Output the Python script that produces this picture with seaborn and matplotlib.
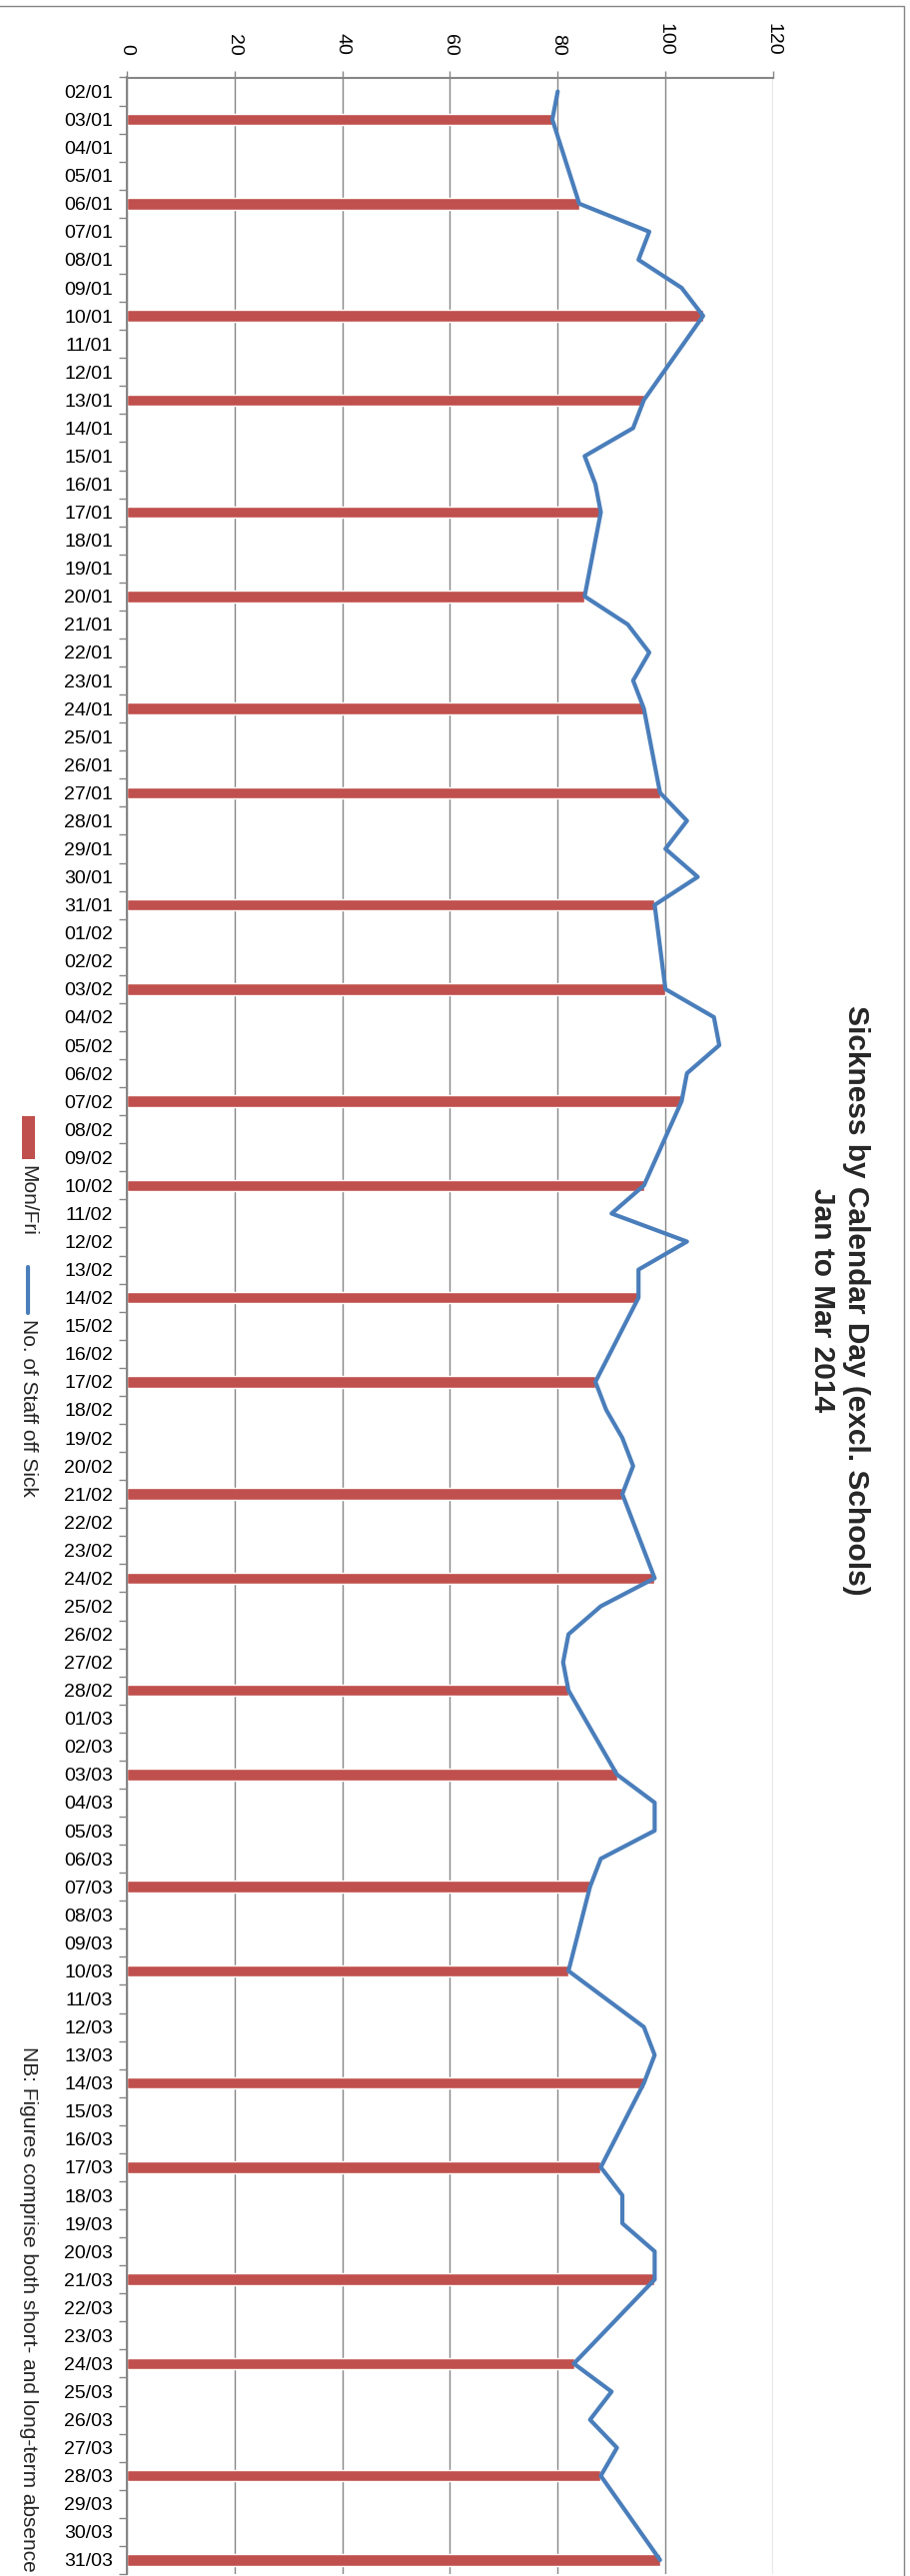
import numpy as np
import pandas as pd
import matplotlib
matplotlib.use("Agg")
import matplotlib.pyplot as plt
import seaborn as sns
from matplotlib.lines import Line2D
from matplotlib.patches import Rectangle

# Calendar days, 2 Jan to 31 Mar 2014
dates = [
    "02/01", "03/01", "04/01", "05/01", "06/01", "07/01", "08/01", "09/01", "10/01",
    "11/01", "12/01", "13/01", "14/01", "15/01", "16/01", "17/01", "18/01", "19/01",
    "20/01", "21/01", "22/01", "23/01", "24/01", "25/01", "26/01", "27/01", "28/01",
    "29/01", "30/01", "31/01",
    "01/02", "02/02", "03/02", "04/02", "05/02", "06/02", "07/02", "08/02", "09/02",
    "10/02", "11/02", "12/02", "13/02", "14/02", "15/02", "16/02", "17/02", "18/02",
    "19/02", "20/02", "21/02", "22/02", "23/02", "24/02", "25/02", "26/02", "27/02",
    "28/02",
    "01/03", "02/03", "03/03", "04/03", "05/03", "06/03", "07/03", "08/03", "09/03",
    "10/03", "11/03", "12/03", "13/03", "14/03", "15/03", "16/03", "17/03", "18/03",
    "19/03", "20/03", "21/03", "22/03", "23/03", "24/03", "25/03", "26/03", "27/03",
    "28/03", "29/03", "30/03", "31/03",
]

# Number of staff off sick per day (weekends have no figure)
staff_off_sick = [
    80, 79, None, None, 84, 97, 95, 103, 107,
    None, None, 96, 94, 85, 87, 88, None, None,
    85, 93, 97, 94, 96, None, None, 99, 104,
    100, 106, 98,
    None, None, 100, 109, 110, 104, 103, None, None,
    96, 90, 104, 95, 95, None, None, 87, 89,
    92, 94, 92, None, None, 98, 88, 82, 81,
    82,
    None, None, 91, 98, 98, 88, 86, None, None,
    82, 89, 96, 98, 96, None, None, 88, 92,
    92, 98, 98, None, None, 83, 90, 86, 91,
    88, None, None, 99,
]

# Mondays and Fridays, highlighted as bars
mon_fri = [
    "03/01", "06/01", "10/01", "13/01", "17/01", "20/01", "24/01", "27/01", "31/01",
    "03/02", "07/02", "10/02", "14/02", "17/02", "21/02", "24/02", "28/02",
    "03/03", "07/03", "10/03", "14/03", "17/03", "21/03", "24/03", "28/03", "31/03",
]

value_ticks = [0, 20, 40, 60, 80, 100, 120]

title = "Sickness by Calendar Day (excl. Schools)\nJan to Mar 2014"
legend_bar = "Mon/Fri"
legend_line = "No. of Staff off Sick"
footnote = "NB: Figures comprise both short- and long-term absence"

BAR_RED = "#C0504D"
LINE_BLUE = "#4A7EBB"
GREY = "#868686"

W, H = 912, 2578

sns.set_style("white")
plt.rcParams["font.family"] = ["Liberation Sans", "DejaVu Sans"]


def fx(px):
    return px / W


def fy(py):
    return 1 - py / H


fig = plt.figure(figsize=(W / 100, H / 100), dpi=100)
fig.patch.set_facecolor("white")

ax_left, ax_right, ax_top, ax_bottom = 127, 774, 77.5, 2576
ax = fig.add_axes([fx(ax_left), fy(ax_bottom), (ax_right - ax_left) / W,
                   (ax_bottom - ax_top) / H])

df = pd.DataFrame({"date": dates,
                   "staff": pd.to_numeric(pd.Series(staff_off_sick), errors="coerce")})
df["pos"] = np.arange(len(df), dtype=float)

bars = df[df["date"].isin(mon_fri)]
sns.barplot(data=bars, x="staff", y="date", order=dates, orient="h",
            color=BAR_RED, saturation=1, width=0.41, errorbar=None, ax=ax,
            zorder=2)

line = df.dropna(subset=["staff"])
sns.lineplot(data=line, x="staff", y="pos", orient="y", sort=True,
             estimator=None, color=LINE_BLUE, linewidth=3.0, ax=ax, zorder=3)

n = len(dates)
ax.set_ylim(n - 0.5, -0.5)
ax.set_xlim(0, 120)
ax.set_xlabel("")
ax.set_ylabel("")

# value axis along the top, labels turned to read downwards
ax.xaxis.tick_top()
ax.set_xticks(value_ticks)
ax.set_xticklabels([str(v) for v in value_ticks])
ax.tick_params(axis="x", which="major", direction="out", length=5, width=1,
               color=GREY, pad=11, labelsize=14, labelcolor="black",
               labelrotation=-90, top=True, bottom=False)

# category axis on the left, tick marks between days
ax.set_yticks(np.arange(n))
ax.set_yticklabels(dates)
ax.set_yticks(np.arange(-0.5, n, 1.0), minor=True)
ax.tick_params(axis="y", which="major", length=0, pad=10, labelsize=14,
               labelcolor="black")
ax.tick_params(axis="y", which="minor", direction="out", length=6, width=1,
               color=GREY, left=True)

ax.set_axisbelow(True)
ax.grid(axis="x", color=GREY, linewidth=1.0)
ax.grid(axis="y", visible=False)

for side in ("right", "bottom"):
    ax.spines[side].set_visible(False)
for side in ("top", "left"):
    ax.spines[side].set_visible(True)
    ax.spines[side].set_color(GREY)
    ax.spines[side].set_linewidth(1.5)
ax.legend_ = None

# chart frame
fig.add_artist(Rectangle((fx(-5), fy(H + 5)), fx(905 + 5), (H + 5 - 6) / H,
                         transform=fig.transFigure, fill=False,
                         edgecolor=GREY, linewidth=1.0))

# title, turned to read downwards
fig.text(fx(840), fy(1301), title, rotation=-90, ha="center", va="center",
         multialignment="center", fontsize=21.5, fontweight="bold",
         linespacing=1.25)

# legend
fig.add_artist(Rectangle((fx(22), fy(1160)), fx(13), (1160 - 1117) / H,
                         transform=fig.transFigure, facecolor=BAR_RED,
                         edgecolor="none"))
fig.text(fx(28), fy(1166), legend_bar, rotation=-90, ha="center", va="top",
         fontsize=15)
fig.add_artist(Line2D([fx(28), fx(28)], [fy(1268), fy(1314)],
                      transform=fig.transFigure, color=LINE_BLUE, linewidth=3))
fig.text(fx(28), fy(1320), legend_line, rotation=-90, ha="center", va="top",
         fontsize=15)

# footnote
fig.text(fx(28), fy(2048), footnote, rotation=-90, ha="center", va="top",
         fontsize=15)

fig.savefig("out.png", dpi=100, facecolor="white")
